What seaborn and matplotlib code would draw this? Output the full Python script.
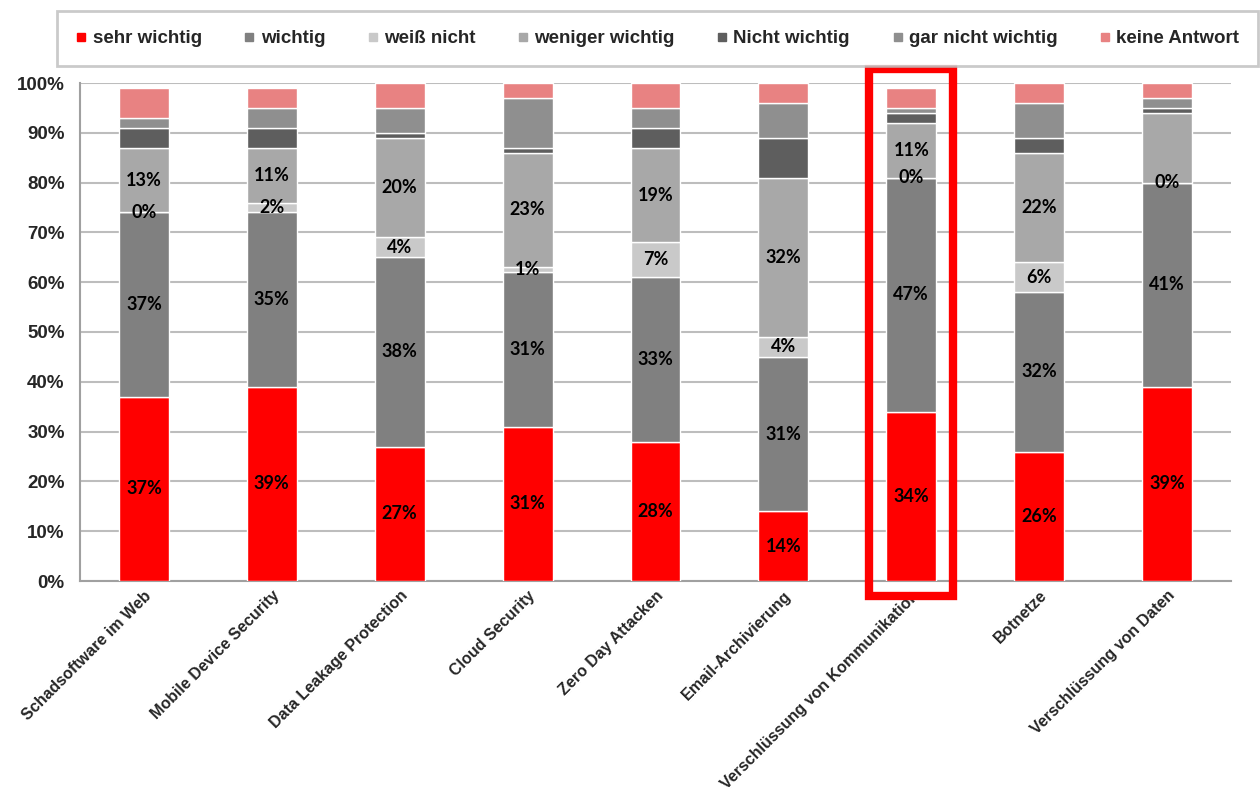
import matplotlib
matplotlib.use("Agg")
import matplotlib.pyplot as plt
import seaborn as sns
import pandas as pd
import numpy as np
from matplotlib.lines import Line2D
from matplotlib.patches import Rectangle

categories = ["Schadsoftware im Web", "Mobile Device Security", "Data Leakage Protection",
              "Cloud Security", "Zero Day Attacken", "Email-Archivierung",
              "Verschlüssung von Kommunikation", "Botnetze", "Verschlüssung von Daten"]

series_names = ["sehr wichtig", "wichtig", "weiß nicht", "weniger wichtig",
                "Nicht wichtig", "gar nicht wichtig", "keine Antwort"]

sehr_wichtig = [37, 39, 27, 31, 28, 14, 34, 26, 39]
wichtig = [37, 35, 38, 31, 33, 31, 47, 32, 41]
weiss_nicht = [0, 2, 4, 1, 7, 4, 0, 6, 0]
weniger_wichtig = [13, 11, 20, 23, 19, 32, 11, 22, 14]
nicht_wichtig = [4, 4, 1, 1, 4, 8, 2, 3, 1]
gar_nicht_wichtig = [2, 4, 5, 10, 4, 7, 1, 7, 2]
keine_antwort = [6, 4, 5, 3, 5, 4, 4, 4, 3]

# which segments carry a value label (the chart labels only the first four series,
# and omits the "weniger wichtig" label on the last bar)
label_sehr = [True] * 9
label_wichtig = [True] * 9
label_weiss = [True] * 9
label_weniger = [True, True, True, True, True, True, True, True, False]

colors = ["#FF0000", "#808080", "#C9C9C9", "#A8A8A8", "#5E5E5E", "#8F8F8F", "#E88282"]

highlight_category = "Verschlüssung von Kommunikation"

series_values = [sehr_wichtig, wichtig, weiss_nicht, weniger_wichtig,
                 nicht_wichtig, gar_nicht_wichtig, keine_antwort]
label_flags = [label_sehr, label_wichtig, label_weiss, label_weniger, None, None, None]

sns.set_theme(style="white")
plt.rcParams['font.family'] = ['Liberation Sans', 'DejaVu Sans']

fig = plt.figure(figsize=(12.6, 7.9), dpi=100)
ax = fig.add_axes([80 / 1260, 1 - 581 / 790, (1231 - 80) / 1260, (581 - 83) / 790])

bottom = np.zeros(len(categories))
for name, vals, col, flags in zip(series_names, series_values, colors, label_flags):
    df = pd.DataFrame({"cat": categories, "val": vals})
    sns.barplot(data=df, x="cat", y="val", color=col, width=0.39, ax=ax,
                bottom=bottom.copy(), edgecolor="white", linewidth=1.0,
                saturation=1, errorbar=None, zorder=3)
    if flags is not None:
        for i, (v, f) in enumerate(zip(vals, flags)):
            if f:
                ax.text(i, bottom[i] + v / 2, f"{v}%", ha="center", va="center",
                        fontsize=13, fontweight="bold", color="black",
                        family=["Lato", "DejaVu Sans"], zorder=5)
    bottom += np.array(vals)

ax.set_ylim(0, 100)
ax.set_xlim(-0.5, len(categories) - 0.5)
ax.set_yticks(np.arange(0, 101, 10))
ax.set_yticklabels([f"{t}%" for t in range(0, 101, 10)], fontsize=13.5, fontweight="bold")
ax.yaxis.grid(True, color="#BDBDBD", linewidth=1.5, zorder=0)
ax.set_axisbelow(True)
ax.set_xlabel("")
ax.set_ylabel("")

ax.set_xticks(range(len(categories)))
ax.set_xticklabels(categories, rotation=45, ha="right", rotation_mode="anchor",
                   fontsize=11.5, fontweight="bold")
ax.tick_params(axis="x", which="major", length=0, pad=5)
ax.set_xticks(np.arange(-0.5, len(categories), 1), minor=True)
ax.tick_params(axis="x", which="minor", length=5, color="#A0A0A0", width=1.5, direction="out")
ax.tick_params(axis="y", length=5, color="#A0A0A0", width=1.5, direction="out", pad=6)

for s in ["top", "right"]:
    ax.spines[s].set_visible(False)
for s in ["left", "bottom"]:
    ax.spines[s].set_color("#A0A0A0")
    ax.spines[s].set_linewidth(1.5)

# highlight box around one category
hi = categories.index(highlight_category)
rect = Rectangle((hi - 0.33, -3.0), 0.66, 105.8, fill=False, edgecolor="#FF0000",
                 linewidth=6, clip_on=False, zorder=6)
ax.add_patch(rect)

handles = [Line2D([0], [0], marker="s", color="none", markerfacecolor=c,
                  markeredgecolor=c, markersize=6) for c in colors]
leg = fig.legend(handles, series_names, ncol=7, loc="lower left",
                 bbox_to_anchor=(57 / 1260, 1 - 66 / 790, (1258 - 57) / 1260, 54 / 790),
                 mode="expand", frameon=True, fancybox=False, handlelength=0.6,
                 handletextpad=0.3, borderaxespad=0, borderpad=1.0,
                 prop={"size": 13.5, "weight": "bold"})
leg.get_frame().set_edgecolor("#BDBDBD")
leg.get_frame().set_linewidth(2)

fig.savefig("out.png", dpi=100)
